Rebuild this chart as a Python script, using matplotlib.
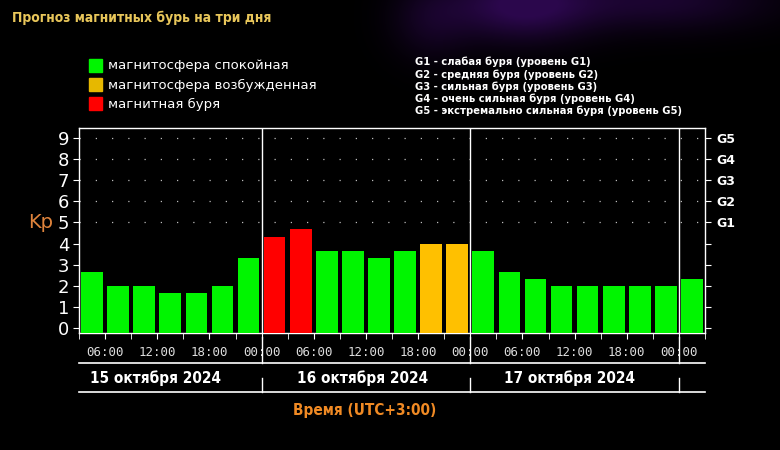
import numpy as np
import matplotlib.pyplot as plt
from matplotlib.transforms import blended_transform_factory
from matplotlib.patches import Rectangle

# Kp forecast, 3-hour intervals from 15 Oct 03:00 (UTC+3)
kp_values = [2.67, 2.0, 2.0, 1.67, 1.67, 2.0, 3.33,
             4.33, 4.67, 3.67, 3.67, 3.33, 3.67, 4.0, 4.0,
             3.67, 2.67, 2.33, 2.0, 2.0, 2.0, 2.0, 2.0,
             2.33]
# 0 - calm, 1 - excited, 2 - storm
status = [0, 0, 0, 0, 0, 0, 0,
          2, 2, 0, 0, 0, 0, 1, 1,
          0, 0, 0, 0, 0, 0, 0, 0,
          0]
start_hour = 3
tick_hours = [6, 12, 18, 24, 30, 36, 42, 48, 54, 60, 66, 72]
tick_labels = ["06:00", "12:00", "18:00", "00:00"] * 3
day_labels = ["15 октября 2024", "16 октября 2024", "17 октября 2024"]
day_bounds = [24, 48, 72]
g_levels = [5, 6, 7, 8, 9]
g_labels = ["G1", "G2", "G3", "G4", "G5"]
legend_labels = ["магнитосфера спокойная", "магнитосфера возбужденная", "магнитная буря"]
g_legend = ["G1 - слабая буря (уровень G1)",
            "G2 - средняя буря (уровень G2)",
            "G3 - сильная буря (уровень G3)",
            "G4 - очень сильная буря (уровень G4)",
            "G5 - экстремально сильная буря (уровень G5)"]

colors = ["#00F500", "#FFC000", "#FF0000"]
legend_colors = ["#00F500", "#E6B800", "#FF0000"]
narrow = dict(family="DejaVu Sans", fontstretch="condensed")

fig = plt.figure(figsize=(7.8, 4.5), dpi=100)
fig.patch.set_facecolor("black")

# faint purple glow at the top of the background
bg = fig.add_axes([0, 0, 1, 1], zorder=-10)
yy, xx = np.mgrid[0:450, 0:780]
glow = np.exp(-(((xx - 520) / 70.0) ** 2 + ((yy - 5) / 35.0) ** 2))
glow += 0.6 * np.exp(-(((xx - 660) / 110.0) ** 2 + ((yy - 0) / 30.0) ** 2))
glow += 0.4 * np.exp(-(((xx - 430) / 40.0) ** 2 + ((yy - 20) / 40.0) ** 2))
glow = np.clip(glow, 0, 1)
img = np.zeros((450, 780, 3))
img[..., 0] = 0.17 * glow
img[..., 1] = 0.03 * glow
img[..., 2] = 0.30 * glow
bg.imshow(img, extent=[0, 780, 450, 0], aspect="auto")
bg.set_xlim(0, 780)
bg.set_ylim(450, 0)
bg.axis("off")

ymin, ymax = -0.24, 9.48
ax = fig.add_axes([79 / 780, 1 - 333 / 450, 626 / 780, 205 / 450])
ax.set_facecolor("black")
ax.set_xlim(start_hour, start_hour + 3 * len(kp_values))
ax.set_ylim(ymin, ymax)

centers = [start_hour + 1.5 + 3 * i for i in range(len(kp_values))]
bar_colors = [colors[s] for s in status]
heights = [v - ymin for v in kp_values]
ax.bar(centers, heights, width=2.5, bottom=ymin, color=bar_colors, zorder=3)

# dotted grid for G levels
for lvl in g_levels:
    ax.axhline(lvl, color="#BBBBBB", lw=0.9, linestyle=(0, (1, 12)), zorder=1)
for d in day_bounds:
    ax.axvline(d, color="white", lw=1, zorder=4)

for sp in ax.spines.values():
    sp.set_color("white")
    sp.set_linewidth(1)

ax.set_yticks(range(10))
ax.set_yticklabels([str(i) for i in range(10)], fontsize=13, color="white")
ax.set_xticks(tick_hours)
ax.set_xticklabels(tick_labels, fontsize=9, color="#DDDDDD", family="DejaVu Sans Mono")
ax.set_xticks(range(start_hour, start_hour + 3 * len(kp_values) + 1, 3), minor=True)
ax.tick_params(axis="x", which="both", colors="white", length=4, pad=5)
ax.tick_params(axis="x", labelcolor="#DDDDDD")
ax.tick_params(axis="y", colors="white", length=4, pad=3)

ax2 = ax.twinx()
ax2.set_ylim(ymin, ymax)
ax2.set_yticks(range(10))
ax2.set_yticklabels([""] * 5 + g_labels, fontsize=9, color="white", fontweight="bold")
ax2.tick_params(axis="y", colors="white", length=4, pad=4)
for sp in ax2.spines.values():
    sp.set_visible(False)

ax.text(-0.042, 5.0, "Kp", transform=blended_transform_factory(ax.transAxes, ax.transData),
        ha="right", va="center", fontsize=14, color="#E0843C")

# date rows below the axis
tr = blended_transform_factory(ax.transData, fig.transFigure)
x0, x1 = ax.get_xlim()
for ypx in [363, 392]:
    fig.add_artist(plt.Line2D([x0, x1], [1 - ypx / 450] * 2, transform=tr, color="white", lw=1.2))
for d in day_bounds:
    fig.add_artist(plt.Line2D([d, d], [1 - 337 / 450, 1 - 363 / 450], transform=tr, color="white", lw=1))
    fig.add_artist(plt.Line2D([d, d], [1 - 378 / 450, 1 - 392 / 450], transform=tr, color="white", lw=1))
day_x = [155 / 780, 363 / 780, 570 / 780]
for x, lab in zip(day_x, day_labels):
    fig.text(x, 1 - 378 / 450, lab, ha="center", va="center", fontsize=11,
             fontweight="bold", color="white", **narrow)

fig.text(365 / 780, 1 - 411 / 450, "Время (UTC+3:00)", ha="center", va="center",
         fontsize=11, fontweight="bold", color="#F08A24", **narrow)

fig.text(12 / 780, 1 - 18 / 450, "Прогноз магнитных бурь на три дня", ha="left", va="center",
         fontsize=10, fontweight="bold", color="#E8C65A", **narrow)

for i, (lab, c) in enumerate(zip(legend_labels, legend_colors)):
    ypx = 66 + 19 * i
    fig.add_artist(Rectangle((89 / 780, 1 - (ypx + 6) / 450), 13 / 780, 13 / 450,
                             transform=fig.transFigure, color=c))
    fig.text(108 / 780, 1 - ypx / 450, lab, ha="left", va="center", fontsize=9.5, color="white")

for i, lab in enumerate(g_legend):
    ypx = 62 + 12.3 * i
    fig.text(415 / 780, 1 - ypx / 450, lab, ha="left", va="center", fontsize=8,
             fontweight="bold", color="white", **narrow)

fig.savefig("out.png", dpi=100, facecolor="black")
